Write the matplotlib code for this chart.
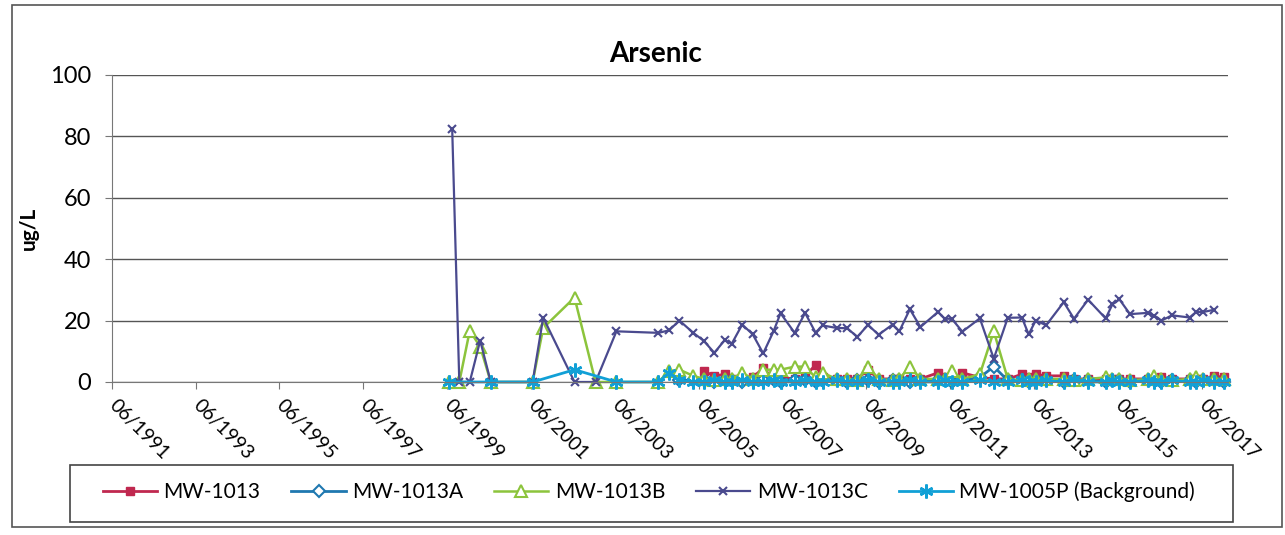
import matplotlib
matplotlib.use("Agg")
import matplotlib.pyplot as plt
from matplotlib.patches import Rectangle
import pandas as pd

plt.rcParams['font.family'] = ['Lato', 'DejaVu Sans']

# sampling dates (quarterly program, 2005 onwards)
q_dates = ['2005-04', '2005-07', '2005-10', '2006-01', '2006-03', '2006-06', '2006-09', '2006-12',
           '2007-03', '2007-05', '2007-09', '2007-12', '2008-03', '2008-05', '2008-09', '2008-12',
           '2009-03', '2009-06', '2009-09', '2010-01', '2010-03', '2010-06', '2010-09', '2011-02',
           '2011-04', '2011-06', '2011-09', '2012-02', '2012-06', '2012-10', '2013-02', '2013-04',
           '2013-06', '2013-09', '2014-02', '2014-05', '2014-09', '2015-02', '2015-04', '2015-06',
           '2015-09', '2016-02', '2016-04', '2016-06', '2016-09', '2017-02', '2017-04', '2017-06',
           '2017-09', '2017-12']

# MW-1013
a_dates = q_dates[1:]
a_vals = [3.5, 2, 2.5, 1, 1, 1.5, 4.5, 1, 1.5, 1, 2, 5.5, 1.5, 1, 1, 1, 4, 1, 1, 1,
          1, 1, 3, 1.5, 1, 3, 1.5, 1, 1, 2.5, 1.5, 2.5, 2, 2, 1, 1, 1, 1, 1, 1,
          1, 1, 1.5, 1, 1, 1, 1, 2, 1.5]

# MW-1013A
b_dates = ['2004-12'] + q_dates
b_vals = [0.5, 0.5, 0.5, 0, 0.5, 0.5, 0, 0.5, 0.5, 0.5, 0, 0.5, 0.5, 0, 0.5, 0.5, 0,
          0.5, 0.5, 0, 0.5, 0.5, 0, 0.5, 0.5, 0.5, 0, 0.5, 1.5, 5, 0.5, 0.5, 0,
          0.5, 0.5, 0, 0.5, 0.5, 0, 0.5, 0.5, 0, 0.5, 0.5, 0, 0.5, 0.5, 0, 0.5, 0.5, 0]

# MW-1013B
c_dates = ['1999-06', '1999-09', '1999-12', '2000-03', '2000-06', '2001-06', '2001-09',
           '2002-06', '2002-12', '2003-06', '2004-06', '2004-09', '2004-12'] + q_dates
c_vals = [0, 0, 16.7, 11.5, 0, 0, 17.6, 27.5, 0, 0, 0, 3.5, 4,
          2, 1, 0.5, 1, 1, 3, 1, 4, 4, 4, 5, 5, 1.5, 3, 1, 1, 0.5, 5, 1, 0.5,
          1, 5, 1, 1, 1, 3.5, 1, 2.5, 16.5, 1, 0.5, 1, 1, 1, 1, 0.5, 1, 1.5,
          1, 1, 0.5, 1, 2, 1, 0.5, 1, 1.5, 1, 1, 1]

# MW-1013C
d_dates = ['1999-07', '1999-09', '1999-12', '2000-03', '2000-06', '2001-06', '2001-09',
           '2002-06', '2002-12', '2003-06', '2004-06', '2004-09', '2004-12'] + q_dates[:-1]
d_vals = [82.5, 0, 0, 13.5, 0, 0, 21, 0, 0, 16.5, 16, 16.8, 20,
          16, 13.4, 9.5, 13.7, 12.4, 18.7, 15.5, 9.3, 16.5, 22.4, 16, 22.5, 16.1,
          18.4, 17.6, 17.5, 14.7, 18.6, 15.4, 18.7, 16.5, 23.7, 17.9, 22.8, 20.6,
          20.6, 16.4, 20.7, 7.6, 20.9, 21, 15.5, 20, 18.5, 26, 20.6, 26.8, 20.7,
          25.3, 26.9, 22.1, 22.5, 21.6, 20, 21.7, 21, 22.8, 22.8, 23.5]

# MW-1005P (Background)
e_dates = ['1999-06', '2000-06', '2001-06', '2002-06', '2003-06', '2004-06', '2004-09',
           '2004-12'] + q_dates
e_vals = [0, 0, 0, 4, 0, 0, 3, 0.5,
          0, 0, 0.5, 0, 0, 0.5, 0, 0, 0.5, 0, 0, 0.5, 0, 0, 0.5, 0, 0, 0.5, 0,
          0, 0, 0.5, 0, 0, 0.5, 0, 0, 0.5, 0, 0, 0.5, 0, 0, 0.5, 0, 1, 0, 0,
          0.5, 0, 0, 0.5, 0, 0, 0.5, 0, 0, 0.5, 0, 0]

names = ['MW-1013', 'MW-1013A', 'MW-1013B', 'MW-1013C', 'MW-1005P (Background)']
tick_years = list(range(1991, 2018, 2))


def to_dt(ds):
    return pd.to_datetime([d + '-15' for d in ds])


fig = plt.figure(figsize=(12.85, 5.35), dpi=100)
ax = fig.add_axes([0.087, 0.286, 0.869, 0.574])

ax.plot(to_dt(a_dates), a_vals, color='#c0284f', marker='s', ms=6, lw=2, clip_on=False, label=names[0])
ax.plot(to_dt(b_dates), b_vals, color='#1f78b0', marker='D', ms=6, mfc='white', mew=1.5, lw=2,
        clip_on=False, label=names[1])
ax.plot(to_dt(c_dates), c_vals, color='#8cc43c', marker='^', ms=9, mfc='white', mew=1.5, lw=1.8,
        clip_on=False, label=names[2])
ax.plot(to_dt(d_dates), d_vals, color='#4a4a8e', marker='x', ms=6, mew=1.5, lw=1.6,
        clip_on=False, label=names[3])
ax.plot(to_dt(e_dates), e_vals, color='#11a0d6', marker=(6, 2, 0), ms=10, mew=1.8, lw=2,
        clip_on=False, label=names[4])

ax.set_ylim(0, 100)
ax.set_yticks(range(0, 101, 20))
ax.set_xlim(pd.Timestamp('1991-06-01'), pd.Timestamp('2018-01-20'))
ticks = pd.to_datetime([f'{y}-06-01' for y in tick_years])
ax.set_xticks(ticks)
ax.set_xticklabels([t.strftime('%m/%Y') for t in ticks], rotation=-45, ha='left', va='center',
                   rotation_mode='anchor', fontsize=14)
ax.tick_params(axis='x', length=5, color='#777777', pad=10)
ax.tick_params(axis='y', length=5, color='#777777', labelsize=17, pad=10)

ax.grid(axis='y', color='#555555', lw=1)
ax.set_axisbelow(True)
for s in ['top', 'right']:
    ax.spines[s].set_visible(False)
for s in ['left', 'bottom']:
    ax.spines[s].set_color('#777777')

ax.set_ylabel('ug/L', fontsize=15, fontweight='bold', labelpad=8)
fig.text(0.51, 0.90, 'Arsenic', fontsize=20, fontweight='bold', ha='center', va='center')

leg = fig.legend(loc='center', bbox_to_anchor=(0.505, 0.08), ncol=5, fontsize=15, frameon=False,
                 handlelength=2.6, columnspacing=1.5, handletextpad=0.3)

# legend box and outer chart border
fig.patches.append(Rectangle((70 / 1285, 1 - 522 / 535), 1163 / 1285, 57 / 535,
                             transform=fig.transFigure, fill=False, ec='#444444', lw=1.2))
fig.patches.append(Rectangle((0.009, 0.015), 0.989, 0.975, transform=fig.transFigure,
                             fill=False, ec='#555555', lw=1.2))

fig.savefig('out.png', dpi=100)
